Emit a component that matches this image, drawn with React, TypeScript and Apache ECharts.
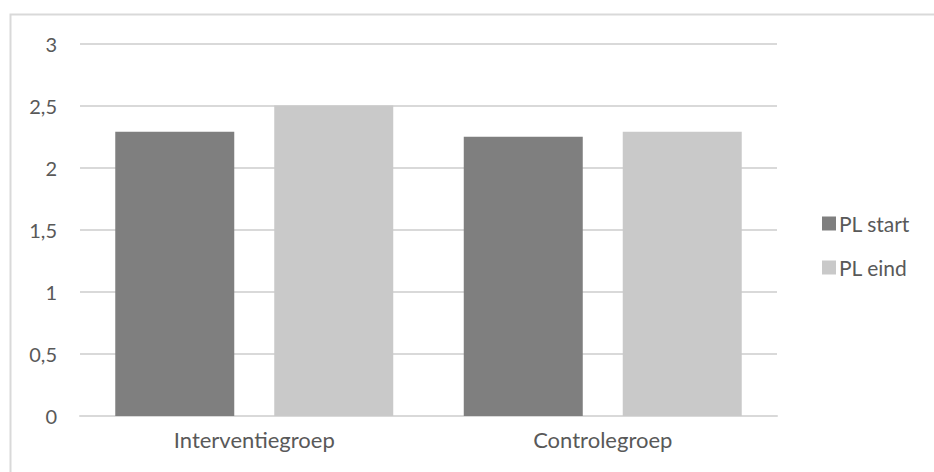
import React, { useEffect, useRef } from "react";
import * as echarts from "echarts";

const categories = ["Interventiegroep", "Controlegroep"];
const plStart = [2.29, 2.25];
const plEind = [2.5, 2.29];
const seriesNames = ["PL start", "PL eind"];

const FONT = "Lato, 'Open Sans', sans-serif";
const TEXT = "#595959";

export default function App() {
  const ref = useRef<HTMLDivElement>(null);

  useEffect(() => {
    if (!ref.current) return;
    const chart = echarts.init(ref.current, null, { renderer: "svg" });
    chart.setOption({
      animation: false,
      backgroundColor: "#ffffff",
      textStyle: { fontFamily: FONT },
      graphic: [
        {
          type: "rect",
          shape: { x: 10.5, y: 14.5, width: 940, height: 480 },
          style: { fill: "none", stroke: "#d9d9d9", lineWidth: 2 },
          silent: true,
        },
      ],
      grid: { left: 80, right: 157, top: 43.5, bottom: 56, containLabel: false },
      legend: {
        orient: "vertical",
        left: 817,
        top: 208,
        itemWidth: 14,
        itemHeight: 14,
        itemGap: 23,
        icon: "rect",
        data: seriesNames,
        textStyle: { color: TEXT, fontSize: 21, fontFamily: FONT, padding: [0, 0, 0, -2] },
      },
      xAxis: {
        type: "category",
        data: categories,
        axisLine: { show: true, lineStyle: { color: "#d9d9d9", width: 2 } },
        axisTick: { show: false },
        axisLabel: { color: TEXT, fontSize: 22, fontFamily: FONT, margin: 12 },
      },
      yAxis: {
        type: "value",
        min: 0,
        max: 3,
        interval: 0.5,
        axisLine: { show: false },
        axisTick: { show: false },
        splitLine: { lineStyle: { color: "#d9d9d9", width: 2 } },
        axisLabel: {
          color: TEXT,
          fontSize: 20,
          fontFamily: FONT,
          margin: 23,
          formatter: (v: number) => String(v).replace(".", ","),
        },
      },
      series: [
        {
          name: seriesNames[0],
          type: "bar",
          data: plStart,
          barWidth: 119,
          barGap: "33.6%",
          itemStyle: { color: "#7f7f7f" },
        },
        {
          name: seriesNames[1],
          type: "bar",
          data: plEind,
          barWidth: 119,
          barGap: "33.6%",
          itemStyle: { color: "#c9c9c9" },
        },
      ],
    });
    return () => chart.dispose();
  }, []);

  return (
    <div
      ref={ref}
      style={{ position: "fixed", left: 0, top: 0, width: 934, height: 472 }}
    />
  );
}
